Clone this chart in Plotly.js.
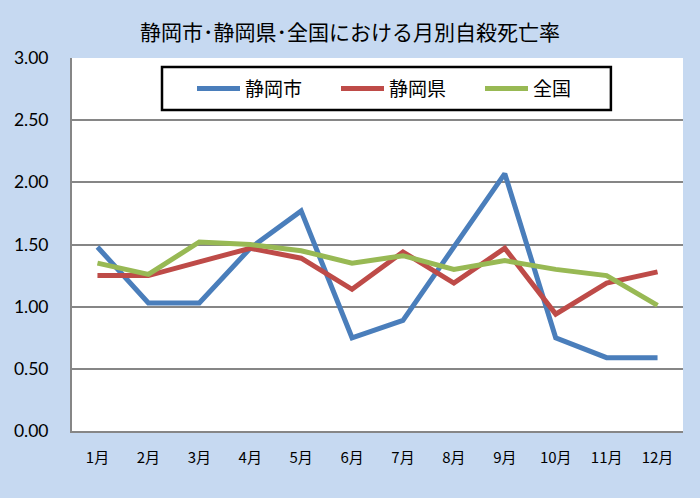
<!DOCTYPE html>
<html>
<head>
<meta charset="utf-8">
<script src="https://cdn.plot.ly/plotly-3.0.1.min.js"></script>
<style>html,body{margin:0;padding:0;background:#C6D9F1;}#chart{width:700px;height:498px;}</style>
</head>
<body>
<div id="chart"></div>
<script>
const months = ["1月","2月","3月","4月","5月","6月","7月","8月","9月","10月","11月","12月"];
const shizuokaCity = [1.48,1.03,1.03,1.47,1.77,0.75,0.89,1.48,2.07,0.75,0.59,0.59];
const shizuokaPref = [1.25,1.25,1.36,1.47,1.39,1.14,1.44,1.19,1.47,0.94,1.19,1.28];
const national     = [1.35,1.26,1.52,1.50,1.45,1.35,1.41,1.30,1.37,1.30,1.25,1.01];
const seriesNames = ["静岡市","静岡県","全国"];
const yTicks = [0,0.5,1,1.5,2,2.5,3];

const jp = '"Noto Sans CJK JP", sans-serif';
const num = 'Lato, "Noto Sans CJK JP", sans-serif';
const colors = ["#4A7EBB","#BE4B48","#98B954"];
const data = [shizuokaCity, shizuokaPref, national].map((vals,i)=>({
  x: months, y: vals, type:'scatter', mode:'lines', name: seriesNames[i],
  line:{color:colors[i], width:5}
}));

const layout = {
  width:700, height:498,
  paper_bgcolor:'#C6D9F1', plot_bgcolor:'#FFFFFF',
  margin:{l:72, r:17, t:58, b:67},
  title:{text:'静岡市･静岡県･全国における月別自殺死亡率', x:0.5, xanchor:'center', y:0.935, yanchor:'middle',
         font:{family:jp, size:21, color:'#000'}},
  showlegend:true,
  legend:{orientation:'h', x:0.1964, xanchor:'left', y:0.918, yanchor:'middle',
          bgcolor:'rgba(0,0,0,0)', borderwidth:0,
          font:{family:jp, size:19, color:'#000'}, itemwidth:43, entrywidth:86, traceorder:'normal'},
  shapes:[{type:'rect', xref:'paper', yref:'paper', x0:0.1473, x1:0.882, y0:0.8606, y1:0.9759,
           fillcolor:'#FFFFFF', line:{color:'#000000', width:2.5}, layer:'above'}],
  xaxis:{type:'category', range:[-0.5,11.5], showgrid:false, showline:true, linecolor:'#868686', linewidth:2,
         ticks:'', tickfont:{family:jp, size:15, color:'#000'}, ticklabelstandoff:12, fixedrange:true},
  yaxis:{range:[0,3], tickvals:yTicks, tickformat:'.2f', showgrid:true, gridcolor:'#868686', gridwidth:2,
         showline:true, linecolor:'#868686', linewidth:2, zeroline:false, ticks:'',
         tickfont:{family:num, size:17.5, color:'#000'}, ticklabelstandoff:18, fixedrange:true}
};
Plotly.newPlot('chart', data, layout, {displayModeBar:false, staticPlot:true});
</script>
</body>
</html>
